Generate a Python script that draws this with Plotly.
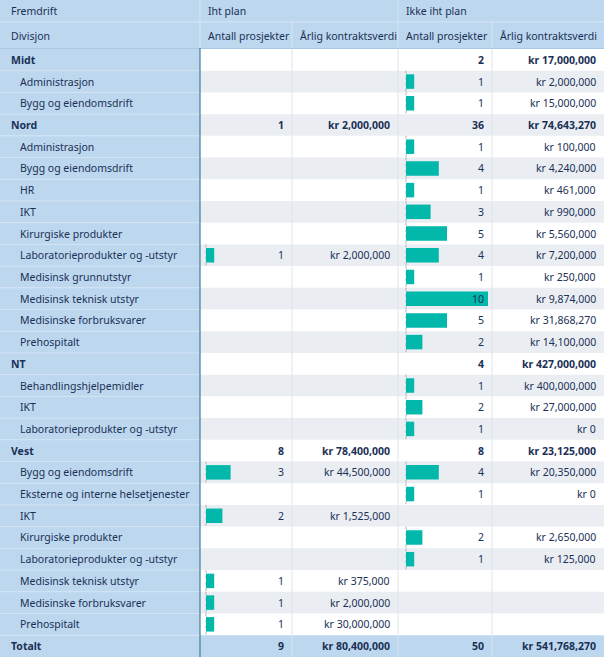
import plotly.graph_objects as go

# ---------------- data ----------------
labels = ["Midt", "Administrasjon", "Bygg og eiendomsdrift",
          "Nord", "Administrasjon", "Bygg og eiendomsdrift", "HR", "IKT",
          "Kirurgiske produkter", "Laboratorieprodukter og -utstyr",
          "Medisinsk grunnutstyr", "Medisinsk teknisk utstyr",
          "Medisinske forbruksvarer", "Prehospitalt",
          "NT", "Behandlingshjelpemidler", "IKT", "Laboratorieprodukter og -utstyr",
          "Vest", "Bygg og eiendomsdrift", "Eksterne og interne helsetjenester", "IKT",
          "Kirurgiske produkter", "Laboratorieprodukter og -utstyr",
          "Medisinsk teknisk utstyr", "Medisinske forbruksvarer", "Prehospitalt",
          "Totalt"]
level = ["g", "s", "s",
         "g", "s", "s", "s", "s", "s", "s", "s", "s", "s", "s",
         "g", "s", "s", "s",
         "g", "s", "s", "s", "s", "s", "s", "s", "s",
         "t"]
iht_antall = [None, None, None,
              1, None, None, None, None, None, 1, None, None, None, None,
              None, None, None, None,
              8, 3, None, 2, None, None, 1, 1, 1,
              9]
iht_verdi = [None, None, None,
             2000000, None, None, None, None, None, 2000000, None, None, None, None,
             None, None, None, None,
             78400000, 44500000, None, 1525000, None, None, 375000, 2000000, 30000000,
             80400000]
ikke_antall = [2, 1, 1,
               36, 1, 4, 1, 3, 5, 4, 1, 10, 5, 2,
               4, 1, 2, 1,
               8, 4, 1, None, 2, 1, None, None, None,
               50]
ikke_verdi = [17000000, 2000000, 15000000,
              74643270, 100000, 4240000, 461000, 990000, 5560000, 7200000, 250000,
              9874000, 31868270, 14100000,
              427000000, 400000000, 27000000, 0,
              23125000, 20350000, 0, None, 2650000, 125000, None, None, None,
              541768270]

group_headers = [("Iht plan", 1), ("Ikke iht plan", 3)]
col_headers = ["Divisjon", "Antall prosjekter", "Årlig kontraktsverdi",
               "Antall prosjekter", "Årlig kontraktsverdi"]
top_header = "Fremdrift"

# ---------------- styling / layout ----------------
W, H = 604, 660
X_EDGES = [0, 200, 292, 398, 492, 604]
H1_BOT, H2_BOT = 22, 48
DATA_TOP = 49
ROW_H = 21.71
BLUE = "#bdd7ee"
STRIPE = "#eaeef3"
TEXT = "#1a3056"
BAR = "#01b8aa"
FONT = "Noto Sans"
FS = 10.5

n = len(labels)
def row_top(i):
    return DATA_TOP + i * ROW_H
def row_mid(i):
    return DATA_TOP + (i + 0.5) * ROW_H

shapes = []
def rect(x0, y0, x1, y1, color):
    shapes.append(dict(type="rect", xref="x", yref="y", x0=x0, x1=x1, y0=y0, y1=y1,
                       fillcolor=color, line=dict(width=0), layer="below"))
def line(x0, y0, x1, y1, color, width=1, dash="solid"):
    shapes.append(dict(type="line", xref="x", yref="y", x0=x0, x1=x1, y0=y0, y1=y1,
                       line=dict(color=color, width=width, dash=dash), layer="below"))

# header background
rect(0, 0, W, H2_BOT + 1, BLUE)
# data rows
for i in range(n):
    y0, y1 = row_top(i), row_top(i + 1)
    if level[i] == "t":
        rect(0, y0, W, y1, BLUE)
    else:
        rect(0, y0, X_EDGES[1], y1, BLUE)
        if i % 2 == 1:
            rect(X_EDGES[1], y0, W, y1, STRIPE)
# header separators (light)
line(0, H1_BOT, W, H1_BOT, "#d6e6f5", 1)
line(X_EDGES[1], 0, X_EDGES[1], H2_BOT, "#d6e6f5", 1)
line(X_EDGES[3], 0, X_EDGES[3], H2_BOT, "#d6e6f5", 1)
line(X_EDGES[2], H1_BOT, X_EDGES[2], H2_BOT, "#d6e6f5", 1)
line(X_EDGES[4], H1_BOT, X_EDGES[4], H2_BOT, "#d6e6f5", 1)
line(0, H2_BOT + 0.5, W, H2_BOT + 0.5, "#a9c8e6", 1)
# label column row separators
for i in range(1, n):
    line(0, row_top(i), X_EDGES[1], row_top(i), "#d3e4f4", 1)
# data column gridlines
for xe in X_EDGES[2:5]:
    line(xe, DATA_TOP, xe, row_top(n - 1), "#dfe4ea", 1)
for xe in X_EDGES[2:5]:
    line(xe, row_top(n - 1), xe, row_top(n), "#d3e4f4", 1)
# dark vertical line after label column
line(X_EDGES[1], H2_BOT, X_EDGES[1], row_top(n), "#3f7f95", 1.2)

# bar baselines (dotted) for rows with bars
BAR_START = [206, 406]
BAR_END = [288, 488]
for ci, vals in enumerate([iht_antall, ikke_antall]):
    for i in range(n):
        if level[i] == "s" and vals[i]:
            line(BAR_START[ci], row_top(i), BAR_START[ci], row_top(i + 1), "#9aa5b1", 0.8, "dot")

fig = go.Figure()

# data bars (detail rows only)
for ci, (vals, ax) in enumerate([(iht_antall, "x2"), (ikke_antall, "x3")]):
    ys = [row_mid(i) for i in range(n) if level[i] == "s" and vals[i]]
    xs = [vals[i] for i in range(n) if level[i] == "s" and vals[i]]
    fig.add_trace(go.Bar(x=xs, y=ys, orientation="h", width=14.5, xaxis=ax, yaxis="y",
                         marker=dict(color=BAR, line=dict(width=0)), hoverinfo="skip",
                         showlegend=False))

# invisible trace on main axes so they render
fig.add_trace(go.Scatter(x=[0, W], y=[0, H], mode="markers", marker=dict(opacity=0),
                         hoverinfo="skip", showlegend=False))

ann = []
def text(x, y, s, anchor="left", bold=False):
    ann.append(dict(x=x, y=y, xref="x", yref="y", text=(f"<b>{s}</b>" if bold else s),
                    showarrow=False, xanchor=anchor, yanchor="middle",
                    font=dict(family=FONT, size=FS, color=TEXT)))

text(9, H1_BOT / 2, top_header)
for name, ci in group_headers:
    text(X_EDGES[ci] + 6, H1_BOT / 2, name)
for ci, name in enumerate(col_headers):
    x = 9 if ci == 0 else X_EDGES[ci] + 6
    text(x, (H1_BOT + H2_BOT) / 2 + 0.5, name)

def fmt_kr(v):
    return f"kr {v:,.0f}"

for i in range(n):
    y = row_mid(i)
    b = level[i] in ("g", "t")
    text(9 if b else 18, y, labels[i], bold=b)
    cols = [iht_antall[i], iht_verdi[i], ikke_antall[i], ikke_verdi[i]]
    for ci, v in enumerate(cols):
        if v is None:
            continue
        s = fmt_kr(v) if ci in (1, 3) else str(v)
        xr = X_EDGES[ci + 2] - 6
        text(xr, y, s, anchor="right", bold=b)

fig.update_layout(
    width=W, height=H, margin=dict(l=0, r=0, t=0, b=0),
    paper_bgcolor="white", plot_bgcolor="rgba(0,0,0,0)",
    shapes=shapes, annotations=ann, barmode="overlay",
    xaxis=dict(range=[0, W], domain=[0, 1], visible=False, fixedrange=True),
    yaxis=dict(range=[H, 0], domain=[0, 1], visible=False, fixedrange=True),
    xaxis2=dict(range=[0, 10], domain=[BAR_START[0] / W, BAR_END[0] / W], anchor="y",
                visible=False, fixedrange=True),
    xaxis3=dict(range=[0, 10], domain=[BAR_START[1] / W, BAR_END[1] / W], anchor="y",
                visible=False, fixedrange=True),
)

fig.write_html("out.html", config={"displayModeBar": False},
               post_script="document.body.style.margin='0';")
